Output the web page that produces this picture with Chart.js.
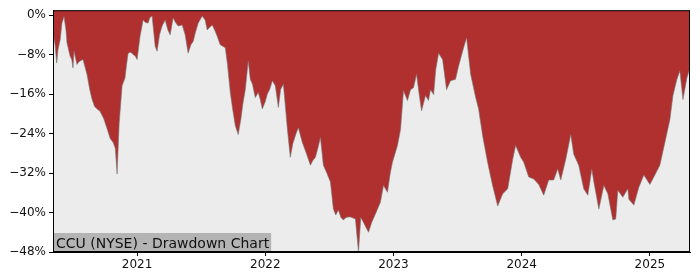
<!DOCTYPE html>
<html>
<head>
<meta charset="utf-8">
<script src="https://cdn.jsdelivr.net/npm/chart.js@4"></script>
<style>
  body { margin: 0; background: #fff; }
  #wrap { width: 700px; height: 280px; }
</style>
</head>
<body>
<div id="wrap"><canvas id="dd"></canvas></div>
<script>
// dates as decimal years, drawdown in percent
const dates = [
  2020.344, 2020.36, 2020.373, 2020.383, 2020.40, 2020.414, 2020.430, 2020.445, 2020.453, 2020.477,
  2020.49, 2020.500, 2020.508, 2020.531, 2020.545, 2020.555, 2020.578, 2020.609, 2020.63, 2020.648,
  2020.668, 2020.688, 2020.711, 2020.74, 2020.766, 2020.79, 2020.813, 2020.83, 2020.844, 2020.86,
  2020.883, 2020.906, 2020.918, 2020.930, 2020.95, 2020.969, 2020.985, 2021.000, 2021.023, 2021.047,
  2021.065, 2021.086, 2021.100, 2021.117, 2021.141, 2021.156, 2021.175, 2021.195, 2021.219, 2021.24,
  2021.258, 2021.281, 2021.30, 2021.320, 2021.352, 2021.375, 2021.398, 2021.42, 2021.438, 2021.455,
  2021.477, 2021.508, 2021.531, 2021.547, 2021.565, 2021.586, 2021.605, 2021.625, 2021.648, 2021.688,
  2021.705, 2021.727, 2021.745, 2021.766, 2021.789, 2021.81, 2021.825, 2021.844, 2021.867, 2021.883,
  2021.90, 2021.922, 2021.945, 2021.96, 2021.977, 2022.0, 2022.016, 2022.035, 2022.055, 2022.078,
  2022.102, 2022.12, 2022.141, 2022.155, 2022.172, 2022.195, 2022.215, 2022.24, 2022.258, 2022.289,
  2022.32, 2022.352, 2022.37, 2022.391, 2022.410, 2022.430, 2022.453, 2022.48, 2022.508, 2022.531,
  2022.55, 2022.570, 2022.590, 2022.609, 2022.630, 2022.648, 2022.664, 2022.703, 2022.727, 2022.745,
  2022.766, 2022.785, 2022.805, 2022.83, 2022.859, 2022.898, 2022.922, 2022.953, 2022.975, 2022.992,
  2023.031, 2023.055, 2023.078, 2023.109, 2023.133, 2023.156, 2023.180, 2023.20, 2023.219, 2023.250,
  2023.273, 2023.289, 2023.313, 2023.33, 2023.352, 2023.383, 2023.414, 2023.445, 2023.484, 2023.508,
  2023.547, 2023.570, 2023.602, 2023.641, 2023.664, 2023.695, 2023.734, 2023.773, 2023.813, 2023.852,
  2023.891, 2023.930, 2023.953, 2023.992, 2024.016, 2024.055, 2024.094, 2024.133, 2024.172, 2024.211,
  2024.250, 2024.281, 2024.305, 2024.344, 2024.383, 2024.406, 2024.445, 2024.484, 2024.516, 2024.547,
  2024.563, 2024.602, 2024.641, 2024.672, 2024.711, 2024.734, 2024.750, 2024.789, 2024.828, 2024.836,
  2024.875, 2024.914, 2024.953, 2025.0, 2025.039, 2025.078, 2025.117, 2025.156, 2025.180, 2025.211,
  2025.234, 2025.258, 2025.289, 2025.313
];
const drawdown = [
  -3.5, -6, -9.7, -7, -5, -1.6, -0.3, -3, -5.6, -8.3,
  -9, -10.7, -7.3, -10, -9.5, -9.3, -9, -12, -15, -17,
  -18.5, -19, -19.5, -21, -23, -25, -25.8, -27, -32.2, -22,
  -14.3, -12.7, -10, -7.7, -7.5, -8, -8.3, -9, -4.3, -1,
  -1.5, -1.6, -0.5, -0.2, -6.3, -7.3, -4, -2.2, -1, -3,
  -4, -0.6, -1.5, -2.2, -2, -4, -7.7, -6, -5.3, -3.5,
  -1.6, -0.2, -1, -3, -2.5, -2, -3, -4.3, -6, -6.6,
  -10, -15.7, -19, -22.4, -24.2, -21, -18, -15.1, -9.3, -13,
  -14, -16.7, -15.7, -17, -19, -17.5, -16, -15, -13.3, -14.3,
  -18.7, -15, -14, -18, -23, -28.8, -26, -24, -22.8, -25.8,
  -28, -30.4, -29.5, -28.8, -27, -24.8, -30.4, -32, -33.8, -39.3,
  -40.5, -39.5, -41, -41.5, -41, -40.9, -40.9, -41.3, -48, -41,
  -42, -43, -44, -42, -40.3, -37.9, -34.5, -35.9, -32, -29.8,
  -26.4, -23.2, -15.3, -17.3, -15.1, -14.7, -12, -16, -19.4, -16.3,
  -17.3, -15.1, -16.1, -11, -7.7, -9, -15.1, -13.3, -13, -10.3,
  -6.6, -4.6, -12, -16.7, -19, -24.4, -29.8, -34.5, -38.7, -36.2,
  -35.2, -29.2, -26.4, -28.8, -29.8, -32.8, -33.2, -34.3, -36.5, -33.4,
  -33.4, -31.2, -33.4, -29.2, -24.2, -28.2, -30.4, -35.2, -36.5, -31.2,
  -33.8, -39.3, -34.5, -36.2, -41.5, -41.3, -35.5, -36.9, -35.2, -37.3,
  -38.5, -34.9, -32.4, -34.3, -32.4, -30.4, -25.8, -21.2, -16.3, -13,
  -11.3, -17.1, -12.7, -10.7
];
const yearTicks = [2021, 2022, 2023, 2024, 2025];
const pctTicks = [0, -8, -16, -24, -32, -40, -48];
const title = 'CCU (NYSE) - Drawdown Chart';

const points = dates.map((d, i) => ({x: d, y: drawdown[i]}));

const frame = {
  id: 'frame',
  beforeDraw(chart) {
    const a = chart.chartArea, ctx = chart.ctx;
    ctx.save();
    ctx.fillStyle = '#ececec';
    ctx.fillRect(a.left, a.top, a.right - a.left, a.bottom - a.top);
    ctx.restore();
  },
  afterDraw(chart) {
    const a = chart.chartArea, ctx = chart.ctx;
    ctx.save();
    ctx.font = '14px "DejaVu Sans"';
    const w = ctx.measureText(title).width;
    ctx.fillStyle = '#b4b4b4';
    ctx.fillRect(a.left, a.bottom - 19, w + 5, 19);
    ctx.fillStyle = '#111';
    ctx.textBaseline = 'alphabetic';
    ctx.fillText(title, a.left + 3, a.bottom - 4);
    ctx.strokeStyle = '#000';
    ctx.lineWidth = 1;
    ctx.strokeRect(a.left + 0.5, a.top + 0.5, a.right - a.left - 1, a.bottom - a.top - 1);
    ctx.restore();
  }
};

new Chart(document.getElementById('dd'), {
  type: 'line',
  data: {
    datasets: [{
      data: points,
      borderColor: 'rgba(120,120,120,0.6)',
      borderWidth: 1,
      backgroundColor: '#b03030',
      fill: 'end',
      pointRadius: 0,
      tension: 0
    }]
  },
  options: {
    responsive: true,
    maintainAspectRatio: false,
    animation: false,
    layout: { padding: { top: 7, right: 10, left: 0, bottom: 0 } },
    plugins: { legend: { display: false }, tooltip: { enabled: false } },
    scales: {
      x: {
        type: 'linear',
        min: 2020.344,
        max: 2025.313,
        afterBuildTicks: s => { s.ticks = yearTicks.map(v => ({value: v})); },
        afterFit: s => { s.height = 28; },
        grid: { drawOnChartArea: false, tickLength: 4, color: '#000' },
        border: { color: '#000' },
        ticks: { color: '#111', font: { family: 'DejaVu Sans', size: 12 }, padding: 2,
                 maxRotation: 0, callback: v => String(v) }
      },
      y: {
        min: -48,
        max: 1,
        afterBuildTicks: s => { s.ticks = pctTicks.map(v => ({value: v})); },
        afterFit: s => { s.width = 53; },
        grid: { drawOnChartArea: false, tickLength: 4, color: '#000' },
        border: { color: '#000' },
        ticks: { color: '#111', font: { family: 'DejaVu Sans', size: 12 }, padding: 3,
                 callback: v => (v < 0 ? '\u2212' + Math.abs(v) : v) + '%' }
      }
    }
  },
  plugins: [frame]
});
</script>
</body>
</html>
